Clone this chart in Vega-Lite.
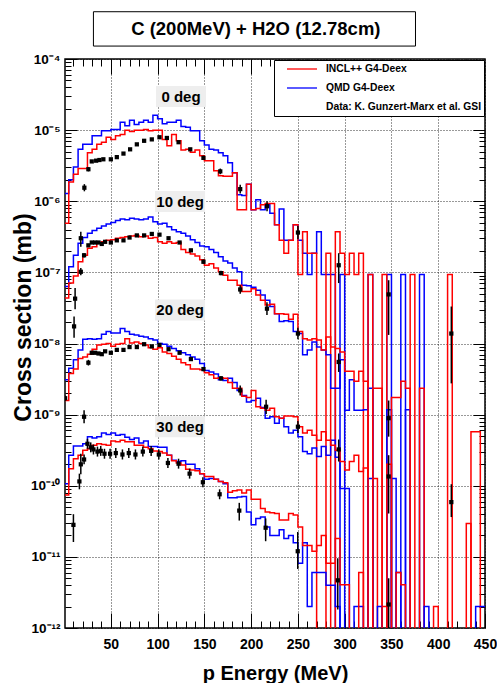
{
"$schema":"https://vega.github.io/schema/vega-lite/v6.json",
"width":420,"height":569,
"autosize":{"type":"none"},
"padding":{"left":65,"top":59,"right":12,"bottom":55},
"background":"white",
"config":{"font":"Liberation Sans","view":{"stroke":"black","strokeWidth":1.5},"axis":{"domain":false,"labelColor":"black","titleColor":"black","tickColor":"black"}},
"datasets":{
"hist":[
{"deg":0,"model":"QMD","E":0,"xs":1.29e-6},{"deg":0,"model":"QMD","E":5,"xs":2.0e-6},{"deg":0,"model":"QMD","E":10,"xs":3.02e-6},{"deg":0,"model":"QMD","E":15,"xs":5.37e-6},{"deg":0,"model":"QMD","E":20,"xs":6.31e-6},{"deg":0,"model":"QMD","E":25,"xs":6.31e-6},{"deg":0,"model":"QMD","E":30,"xs":8.32e-6},{"deg":0,"model":"QMD","E":35,"xs":8.32e-6},{"deg":0,"model":"QMD","E":40,"xs":9.77e-6},{"deg":0,"model":"QMD","E":45,"xs":9.77e-6},{"deg":0,"model":"QMD","E":50,"xs":1.02e-5},{"deg":0,"model":"QMD","E":55,"xs":1.02e-5},{"deg":0,"model":"QMD","E":60,"xs":1.29e-5},{"deg":0,"model":"QMD","E":65,"xs":1.15e-5},{"deg":0,"model":"QMD","E":70,"xs":1.38e-5},{"deg":0,"model":"QMD","E":75,"xs":1.2e-5},{"deg":0,"model":"QMD","E":80,"xs":1.29e-5},{"deg":0,"model":"QMD","E":85,"xs":1.38e-5},{"deg":0,"model":"QMD","E":90,"xs":1.29e-5},{"deg":0,"model":"QMD","E":95,"xs":1.62e-5},{"deg":0,"model":"QMD","E":100,"xs":1.45e-5},{"deg":0,"model":"QMD","E":105,"xs":1.23e-5},{"deg":0,"model":"QMD","E":110,"xs":1.29e-5},{"deg":0,"model":"QMD","E":115,"xs":1.29e-5},{"deg":0,"model":"QMD","E":120,"xs":1.38e-5},{"deg":0,"model":"QMD","E":125,"xs":1.12e-5},{"deg":0,"model":"QMD","E":130,"xs":1.1e-5},{"deg":0,"model":"QMD","E":135,"xs":9.77e-6},{"deg":0,"model":"QMD","E":140,"xs":9.77e-6},{"deg":0,"model":"QMD","E":145,"xs":7.08e-6},{"deg":0,"model":"QMD","E":150,"xs":6.17e-6},{"deg":0,"model":"QMD","E":155,"xs":5.37e-6},{"deg":0,"model":"QMD","E":160,"xs":5.25e-6},{"deg":0,"model":"QMD","E":165,"xs":4.79e-6},{"deg":0,"model":"QMD","E":170,"xs":4.37e-6},{"deg":0,"model":"QMD","E":175,"xs":3.47e-6},{"deg":0,"model":"QMD","E":180,"xs":2.51e-6},{"deg":0,"model":"QMD","E":185,"xs":1.23e-6},{"deg":0,"model":"QMD","E":190,"xs":1.2e-6},{"deg":0,"model":"QMD","E":195,"xs":1.74e-6},{"deg":0,"model":"QMD","E":200,"xs":7.59e-7},{"deg":0,"model":"QMD","E":205,"xs":1.05e-6},{"deg":0,"model":"QMD","E":210,"xs":7.59e-7},{"deg":0,"model":"QMD","E":215,"xs":8.91e-7},{"deg":0,"model":"QMD","E":220,"xs":6.76e-7},{"deg":0,"model":"QMD","E":225,"xs":4.68e-7},{"deg":0,"model":"QMD","E":230,"xs":7.76e-7},{"deg":0,"model":"QMD","E":235,"xs":2.82e-7},{"deg":0,"model":"QMD","E":240,"xs":2.82e-7},{"deg":0,"model":"QMD","E":245,"xs":4.68e-7},{"deg":0,"model":"QMD","E":250,"xs":2.82e-7},{"deg":0,"model":"QMD","E":255,"xs":1.86e-7},{"deg":0,"model":"QMD","E":260,"xs":9.33e-8},{"deg":0,"model":"QMD","E":265,"xs":1.86e-7},{"deg":0,"model":"QMD","E":270,"xs":3.72e-7},{"deg":0,"model":"QMD","E":275,"xs":9.33e-8},{"deg":0,"model":"QMD","E":280,"xs":9.33e-8},{"deg":0,"model":"QMD","E":285,"xs":9.33e-8},{"deg":0,"model":"QMD","E":290,"xs":1e-14},{"deg":0,"model":"QMD","E":295,"xs":9.33e-8},{"deg":0,"model":"QMD","E":300,"xs":1e-14},{"deg":0,"model":"QMD","E":325,"xs":9.33e-8},{"deg":0,"model":"QMD","E":330,"xs":1e-14},{"deg":0,"model":"QMD","E":345,"xs":9.33e-8},{"deg":0,"model":"QMD","E":350,"xs":1e-14},{"deg":0,"model":"QMD","E":360,"xs":9.33e-8},{"deg":0,"model":"QMD","E":365,"xs":1e-14},{"deg":0,"model":"QMD","E":380,"xs":9.33e-8},{"deg":0,"model":"QMD","E":385,"xs":1e-14},
{"deg":0,"model":"INCL","E":0,"xs":4.9e-7},{"deg":0,"model":"INCL","E":5,"xs":1.86e-6},{"deg":0,"model":"INCL","E":10,"xs":2.4e-6},{"deg":0,"model":"INCL","E":15,"xs":2.88e-6},{"deg":0,"model":"INCL","E":20,"xs":2.88e-6},{"deg":0,"model":"INCL","E":25,"xs":4.79e-6},{"deg":0,"model":"INCL","E":30,"xs":5.37e-6},{"deg":0,"model":"INCL","E":35,"xs":6.31e-6},{"deg":0,"model":"INCL","E":40,"xs":6.76e-6},{"deg":0,"model":"INCL","E":45,"xs":7.94e-6},{"deg":0,"model":"INCL","E":50,"xs":7.41e-6},{"deg":0,"model":"INCL","E":55,"xs":8.32e-6},{"deg":0,"model":"INCL","E":60,"xs":8.71e-6},{"deg":0,"model":"INCL","E":65,"xs":1.0e-5},{"deg":0,"model":"INCL","E":70,"xs":9.55e-6},{"deg":0,"model":"INCL","E":75,"xs":1.0e-5},{"deg":0,"model":"INCL","E":80,"xs":1.0e-5},{"deg":0,"model":"INCL","E":85,"xs":1.02e-5},{"deg":0,"model":"INCL","E":90,"xs":9.77e-6},{"deg":0,"model":"INCL","E":95,"xs":1.0e-5},{"deg":0,"model":"INCL","E":100,"xs":1.0e-5},{"deg":0,"model":"INCL","E":105,"xs":7.41e-6},{"deg":0,"model":"INCL","E":110,"xs":6.03e-6},{"deg":0,"model":"INCL","E":115,"xs":8.71e-6},{"deg":0,"model":"INCL","E":120,"xs":7.08e-6},{"deg":0,"model":"INCL","E":125,"xs":5.25e-6},{"deg":0,"model":"INCL","E":130,"xs":5.37e-6},{"deg":0,"model":"INCL","E":135,"xs":4.9e-6},{"deg":0,"model":"INCL","E":140,"xs":5.25e-6},{"deg":0,"model":"INCL","E":145,"xs":4.37e-6},{"deg":0,"model":"INCL","E":150,"xs":3.72e-6},{"deg":0,"model":"INCL","E":155,"xs":3.72e-6},{"deg":0,"model":"INCL","E":160,"xs":2.69e-6},{"deg":0,"model":"INCL","E":165,"xs":2.29e-6},{"deg":0,"model":"INCL","E":170,"xs":2.24e-6},{"deg":0,"model":"INCL","E":175,"xs":2.24e-6},{"deg":0,"model":"INCL","E":180,"xs":2.51e-6},{"deg":0,"model":"INCL","E":185,"xs":7.59e-7},{"deg":0,"model":"INCL","E":190,"xs":7.59e-7},{"deg":0,"model":"INCL","E":195,"xs":1.74e-6},{"deg":0,"model":"INCL","E":200,"xs":7.59e-7},{"deg":0,"model":"INCL","E":205,"xs":7.94e-7},{"deg":0,"model":"INCL","E":210,"xs":8.91e-7},{"deg":0,"model":"INCL","E":215,"xs":9.33e-7},{"deg":0,"model":"INCL","E":220,"xs":9.33e-7},{"deg":0,"model":"INCL","E":225,"xs":4.68e-7},{"deg":0,"model":"INCL","E":230,"xs":2.82e-7},{"deg":0,"model":"INCL","E":235,"xs":1.86e-7},{"deg":0,"model":"INCL","E":240,"xs":2.82e-7},{"deg":0,"model":"INCL","E":245,"xs":4.68e-7},{"deg":0,"model":"INCL","E":250,"xs":9.33e-8},{"deg":0,"model":"INCL","E":255,"xs":3.72e-7},{"deg":0,"model":"INCL","E":260,"xs":1.86e-7},{"deg":0,"model":"INCL","E":265,"xs":1.86e-7},{"deg":0,"model":"INCL","E":270,"xs":1e-14},{"deg":0,"model":"INCL","E":280,"xs":1.86e-7},{"deg":0,"model":"INCL","E":285,"xs":1e-14},{"deg":0,"model":"INCL","E":290,"xs":3.72e-7},{"deg":0,"model":"INCL","E":295,"xs":1.86e-7},{"deg":0,"model":"INCL","E":300,"xs":9.33e-8},{"deg":0,"model":"INCL","E":305,"xs":1.86e-7},{"deg":0,"model":"INCL","E":310,"xs":9.33e-8},{"deg":0,"model":"INCL","E":315,"xs":1.86e-7},{"deg":0,"model":"INCL","E":320,"xs":1e-14},{"deg":0,"model":"INCL","E":325,"xs":9.33e-8},{"deg":0,"model":"INCL","E":330,"xs":1e-14},{"deg":0,"model":"INCL","E":340,"xs":9.33e-8},{"deg":0,"model":"INCL","E":345,"xs":1e-14},{"deg":0,"model":"INCL","E":370,"xs":9.33e-8},{"deg":0,"model":"INCL","E":375,"xs":1e-14},{"deg":0,"model":"INCL","E":410,"xs":9.33e-8},{"deg":0,"model":"INCL","E":415,"xs":1e-14},
{"deg":10,"model":"QMD","E":0,"xs":6.31e-8},{"deg":10,"model":"QMD","E":5,"xs":1.2e-7},{"deg":10,"model":"QMD","E":10,"xs":1.74e-7},{"deg":10,"model":"QMD","E":15,"xs":2.57e-7},{"deg":10,"model":"QMD","E":20,"xs":3.09e-7},{"deg":10,"model":"QMD","E":25,"xs":3.55e-7},{"deg":10,"model":"QMD","E":30,"xs":3.89e-7},{"deg":10,"model":"QMD","E":35,"xs":4.17e-7},{"deg":10,"model":"QMD","E":40,"xs":4.47e-7},{"deg":10,"model":"QMD","E":45,"xs":4.79e-7},{"deg":10,"model":"QMD","E":50,"xs":5.01e-7},{"deg":10,"model":"QMD","E":55,"xs":5.37e-7},{"deg":10,"model":"QMD","E":60,"xs":5.62e-7},{"deg":10,"model":"QMD","E":65,"xs":5.5e-7},{"deg":10,"model":"QMD","E":70,"xs":5.75e-7},{"deg":10,"model":"QMD","E":75,"xs":5.62e-7},{"deg":10,"model":"QMD","E":80,"xs":5.5e-7},{"deg":10,"model":"QMD","E":85,"xs":5.62e-7},{"deg":10,"model":"QMD","E":90,"xs":6.03e-7},{"deg":10,"model":"QMD","E":95,"xs":5.13e-7},{"deg":10,"model":"QMD","E":100,"xs":4.79e-7},{"deg":10,"model":"QMD","E":105,"xs":4.9e-7},{"deg":10,"model":"QMD","E":110,"xs":4.37e-7},{"deg":10,"model":"QMD","E":115,"xs":3.98e-7},{"deg":10,"model":"QMD","E":120,"xs":3.72e-7},{"deg":10,"model":"QMD","E":125,"xs":3.55e-7},{"deg":10,"model":"QMD","E":130,"xs":3.24e-7},{"deg":10,"model":"QMD","E":135,"xs":2.88e-7},{"deg":10,"model":"QMD","E":140,"xs":2.63e-7},{"deg":10,"model":"QMD","E":145,"xs":2.34e-7},{"deg":10,"model":"QMD","E":150,"xs":2.29e-7},{"deg":10,"model":"QMD","E":155,"xs":2.09e-7},{"deg":10,"model":"QMD","E":160,"xs":1.91e-7},{"deg":10,"model":"QMD","E":165,"xs":1.66e-7},{"deg":10,"model":"QMD","E":170,"xs":1.45e-7},{"deg":10,"model":"QMD","E":175,"xs":1.35e-7},{"deg":10,"model":"QMD","E":180,"xs":1.15e-7},{"deg":10,"model":"QMD","E":185,"xs":1.02e-7},{"deg":10,"model":"QMD","E":190,"xs":6.61e-8},{"deg":10,"model":"QMD","E":195,"xs":6.46e-8},{"deg":10,"model":"QMD","E":200,"xs":6.17e-8},{"deg":10,"model":"QMD","E":205,"xs":5.62e-8},{"deg":10,"model":"QMD","E":210,"xs":4.79e-8},{"deg":10,"model":"QMD","E":215,"xs":4.07e-8},{"deg":10,"model":"QMD","E":220,"xs":3.31e-8},{"deg":10,"model":"QMD","E":225,"xs":2.63e-8},{"deg":10,"model":"QMD","E":230,"xs":2.04e-8},{"deg":10,"model":"QMD","E":235,"xs":2.09e-8},{"deg":10,"model":"QMD","E":240,"xs":2.04e-8},{"deg":10,"model":"QMD","E":245,"xs":1.48e-8},{"deg":10,"model":"QMD","E":250,"xs":1.38e-8},{"deg":10,"model":"QMD","E":255,"xs":6.92e-9},{"deg":10,"model":"QMD","E":260,"xs":8.13e-9},{"deg":10,"model":"QMD","E":265,"xs":1.05e-8},{"deg":10,"model":"QMD","E":270,"xs":8.91e-9},{"deg":10,"model":"QMD","E":275,"xs":8.13e-9},{"deg":10,"model":"QMD","E":280,"xs":6.92e-9},{"deg":10,"model":"QMD","E":285,"xs":2.34e-9},{"deg":10,"model":"QMD","E":290,"xs":2.34e-9},{"deg":10,"model":"QMD","E":295,"xs":5.89e-9},{"deg":10,"model":"QMD","E":300,"xs":1.15e-9},{"deg":10,"model":"QMD","E":305,"xs":3.09e-9},{"deg":10,"model":"QMD","E":310,"xs":1.15e-9},{"deg":10,"model":"QMD","E":315,"xs":1.15e-9},{"deg":10,"model":"QMD","E":320,"xs":1.17e-9},{"deg":10,"model":"QMD","E":325,"xs":2.34e-9},{"deg":10,"model":"QMD","E":330,"xs":1e-14},{"deg":10,"model":"QMD","E":345,"xs":1.17e-9},{"deg":10,"model":"QMD","E":350,"xs":1e-14},{"deg":10,"model":"QMD","E":365,"xs":1.17e-9},{"deg":10,"model":"QMD","E":370,"xs":1e-14},
{"deg":10,"model":"INCL","E":0,"xs":4.37e-8},{"deg":10,"model":"INCL","E":5,"xs":7.08e-8},{"deg":10,"model":"INCL","E":10,"xs":8.91e-8},{"deg":10,"model":"INCL","E":15,"xs":1.41e-7},{"deg":10,"model":"INCL","E":20,"xs":1.74e-7},{"deg":10,"model":"INCL","E":25,"xs":2.19e-7},{"deg":10,"model":"INCL","E":30,"xs":2.29e-7},{"deg":10,"model":"INCL","E":35,"xs":2.57e-7},{"deg":10,"model":"INCL","E":40,"xs":2.69e-7},{"deg":10,"model":"INCL","E":45,"xs":2.82e-7},{"deg":10,"model":"INCL","E":50,"xs":2.88e-7},{"deg":10,"model":"INCL","E":55,"xs":3.02e-7},{"deg":10,"model":"INCL","E":60,"xs":3.09e-7},{"deg":10,"model":"INCL","E":65,"xs":3.16e-7},{"deg":10,"model":"INCL","E":70,"xs":3.24e-7},{"deg":10,"model":"INCL","E":75,"xs":3.31e-7},{"deg":10,"model":"INCL","E":80,"xs":3.16e-7},{"deg":10,"model":"INCL","E":85,"xs":3.24e-7},{"deg":10,"model":"INCL","E":90,"xs":3.02e-7},{"deg":10,"model":"INCL","E":95,"xs":3.09e-7},{"deg":10,"model":"INCL","E":100,"xs":2.69e-7},{"deg":10,"model":"INCL","E":105,"xs":2.57e-7},{"deg":10,"model":"INCL","E":110,"xs":2.69e-7},{"deg":10,"model":"INCL","E":115,"xs":2.57e-7},{"deg":10,"model":"INCL","E":120,"xs":2.63e-7},{"deg":10,"model":"INCL","E":125,"xs":2.09e-7},{"deg":10,"model":"INCL","E":130,"xs":1.91e-7},{"deg":10,"model":"INCL","E":135,"xs":1.82e-7},{"deg":10,"model":"INCL","E":140,"xs":1.7e-7},{"deg":10,"model":"INCL","E":145,"xs":1.51e-7},{"deg":10,"model":"INCL","E":150,"xs":1.26e-7},{"deg":10,"model":"INCL","E":155,"xs":1.32e-7},{"deg":10,"model":"INCL","E":160,"xs":1.15e-7},{"deg":10,"model":"INCL","E":165,"xs":1.02e-7},{"deg":10,"model":"INCL","E":170,"xs":9.12e-8},{"deg":10,"model":"INCL","E":175,"xs":7.76e-8},{"deg":10,"model":"INCL","E":180,"xs":7.76e-8},{"deg":10,"model":"INCL","E":185,"xs":6.61e-8},{"deg":10,"model":"INCL","E":190,"xs":5.37e-8},{"deg":10,"model":"INCL","E":195,"xs":5.37e-8},{"deg":10,"model":"INCL","E":200,"xs":5.89e-8},{"deg":10,"model":"INCL","E":205,"xs":4.79e-8},{"deg":10,"model":"INCL","E":210,"xs":4.07e-8},{"deg":10,"model":"INCL","E":215,"xs":3.47e-8},{"deg":10,"model":"INCL","E":220,"xs":3.55e-8},{"deg":10,"model":"INCL","E":225,"xs":2.63e-8},{"deg":10,"model":"INCL","E":230,"xs":2.63e-8},{"deg":10,"model":"INCL","E":235,"xs":2.57e-8},{"deg":10,"model":"INCL","E":240,"xs":2.19e-8},{"deg":10,"model":"INCL","E":245,"xs":2.57e-8},{"deg":10,"model":"INCL","E":250,"xs":1.48e-8},{"deg":10,"model":"INCL","E":255,"xs":1.17e-8},{"deg":10,"model":"INCL","E":260,"xs":1.12e-8},{"deg":10,"model":"INCL","E":265,"xs":1.17e-8},{"deg":10,"model":"INCL","E":270,"xs":1.12e-8},{"deg":10,"model":"INCL","E":275,"xs":8.13e-9},{"deg":10,"model":"INCL","E":280,"xs":1.23e-8},{"deg":10,"model":"INCL","E":285,"xs":8.91e-9},{"deg":10,"model":"INCL","E":290,"xs":8.51e-9},{"deg":10,"model":"INCL","E":295,"xs":7.59e-9},{"deg":10,"model":"INCL","E":300,"xs":4.07e-9},{"deg":10,"model":"INCL","E":305,"xs":4.07e-9},{"deg":10,"model":"INCL","E":310,"xs":2.95e-9},{"deg":10,"model":"INCL","E":315,"xs":4.07e-9},{"deg":10,"model":"INCL","E":320,"xs":2.95e-9},{"deg":10,"model":"INCL","E":325,"xs":1e-14},{"deg":10,"model":"INCL","E":330,"xs":2.34e-9},{"deg":10,"model":"INCL","E":335,"xs":2.34e-9},{"deg":10,"model":"INCL","E":340,"xs":1e-14},{"deg":10,"model":"INCL","E":350,"xs":1.74e-9},{"deg":10,"model":"INCL","E":355,"xs":1.74e-9},{"deg":10,"model":"INCL","E":360,"xs":2.95e-9},{"deg":10,"model":"INCL","E":365,"xs":2.34e-9},{"deg":10,"model":"INCL","E":370,"xs":1e-14},{"deg":10,"model":"INCL","E":380,"xs":2.34e-9},{"deg":10,"model":"INCL","E":385,"xs":1e-14},
{"deg":20,"model":"QMD","E":0,"xs":3.09e-9},{"deg":20,"model":"QMD","E":5,"xs":4.47e-9},{"deg":20,"model":"QMD","E":10,"xs":5.89e-9},{"deg":20,"model":"QMD","E":15,"xs":8.13e-9},{"deg":20,"model":"QMD","E":20,"xs":1.15e-8},{"deg":20,"model":"QMD","E":25,"xs":1.17e-8},{"deg":20,"model":"QMD","E":30,"xs":1.15e-8},{"deg":20,"model":"QMD","E":35,"xs":1.17e-8},{"deg":20,"model":"QMD","E":40,"xs":1.35e-8},{"deg":20,"model":"QMD","E":45,"xs":1.48e-8},{"deg":20,"model":"QMD","E":50,"xs":1.41e-8},{"deg":20,"model":"QMD","E":55,"xs":1.41e-8},{"deg":20,"model":"QMD","E":60,"xs":1.62e-8},{"deg":20,"model":"QMD","E":65,"xs":1.48e-8},{"deg":20,"model":"QMD","E":70,"xs":1.35e-8},{"deg":20,"model":"QMD","E":75,"xs":1.32e-8},{"deg":20,"model":"QMD","E":80,"xs":1.26e-8},{"deg":20,"model":"QMD","E":85,"xs":1.23e-8},{"deg":20,"model":"QMD","E":90,"xs":1.17e-8},{"deg":20,"model":"QMD","E":95,"xs":1.12e-8},{"deg":20,"model":"QMD","E":100,"xs":1.0e-8},{"deg":20,"model":"QMD","E":105,"xs":9.77e-9},{"deg":20,"model":"QMD","E":110,"xs":9.12e-9},{"deg":20,"model":"QMD","E":115,"xs":8.51e-9},{"deg":20,"model":"QMD","E":120,"xs":7.94e-9},{"deg":20,"model":"QMD","E":125,"xs":7.41e-9},{"deg":20,"model":"QMD","E":130,"xs":6.92e-9},{"deg":20,"model":"QMD","E":135,"xs":6.46e-9},{"deg":20,"model":"QMD","E":140,"xs":6.03e-9},{"deg":20,"model":"QMD","E":145,"xs":5.25e-9},{"deg":20,"model":"QMD","E":150,"xs":4.17e-9},{"deg":20,"model":"QMD","E":155,"xs":3.98e-9},{"deg":20,"model":"QMD","E":160,"xs":3.72e-9},{"deg":20,"model":"QMD","E":165,"xs":3.09e-9},{"deg":20,"model":"QMD","E":170,"xs":3.02e-9},{"deg":20,"model":"QMD","E":175,"xs":3.24e-9},{"deg":20,"model":"QMD","E":180,"xs":2.82e-9},{"deg":20,"model":"QMD","E":185,"xs":2.19e-9},{"deg":20,"model":"QMD","E":190,"xs":1.86e-9},{"deg":20,"model":"QMD","E":195,"xs":1.51e-9},{"deg":20,"model":"QMD","E":200,"xs":1.58e-9},{"deg":20,"model":"QMD","E":205,"xs":1.7e-9},{"deg":20,"model":"QMD","E":210,"xs":1.26e-9},{"deg":20,"model":"QMD","E":215,"xs":8.91e-10},{"deg":20,"model":"QMD","E":220,"xs":9.33e-10},{"deg":20,"model":"QMD","E":225,"xs":7.59e-10},{"deg":20,"model":"QMD","E":230,"xs":8.91e-10},{"deg":20,"model":"QMD","E":235,"xs":6.76e-10},{"deg":20,"model":"QMD","E":240,"xs":5.5e-10},{"deg":20,"model":"QMD","E":245,"xs":6.03e-10},{"deg":20,"model":"QMD","E":250,"xs":4.9e-10},{"deg":20,"model":"QMD","E":255,"xs":3.02e-10},{"deg":20,"model":"QMD","E":260,"xs":2.82e-10},{"deg":20,"model":"QMD","E":265,"xs":3.39e-10},{"deg":20,"model":"QMD","E":270,"xs":2.57e-10},{"deg":20,"model":"QMD","E":275,"xs":3.55e-10},{"deg":20,"model":"QMD","E":280,"xs":2.69e-10},{"deg":20,"model":"QMD","E":285,"xs":4.37e-10},{"deg":20,"model":"QMD","E":290,"xs":2.51e-10},{"deg":20,"model":"QMD","E":295,"xs":9.12e-11},{"deg":20,"model":"QMD","E":300,"xs":9.12e-11},{"deg":20,"model":"QMD","E":305,"xs":1e-14},{"deg":20,"model":"QMD","E":325,"xs":1.26e-10},{"deg":20,"model":"QMD","E":330,"xs":1e-14},{"deg":20,"model":"QMD","E":350,"xs":1.26e-10},{"deg":20,"model":"QMD","E":355,"xs":1e-14},
{"deg":20,"model":"INCL","E":0,"xs":1.58e-9},{"deg":20,"model":"INCL","E":5,"xs":3.8e-9},{"deg":20,"model":"INCL","E":10,"xs":4.37e-9},{"deg":20,"model":"INCL","E":15,"xs":6.17e-9},{"deg":20,"model":"INCL","E":20,"xs":6.46e-9},{"deg":20,"model":"INCL","E":25,"xs":7.08e-9},{"deg":20,"model":"INCL","E":30,"xs":8.32e-9},{"deg":20,"model":"INCL","E":35,"xs":9.55e-9},{"deg":20,"model":"INCL","E":40,"xs":9.77e-9},{"deg":20,"model":"INCL","E":45,"xs":1.0e-8},{"deg":20,"model":"INCL","E":50,"xs":9.12e-9},{"deg":20,"model":"INCL","E":55,"xs":9.77e-9},{"deg":20,"model":"INCL","E":60,"xs":1.0e-8},{"deg":20,"model":"INCL","E":65,"xs":1.17e-8},{"deg":20,"model":"INCL","E":70,"xs":1.02e-8},{"deg":20,"model":"INCL","E":75,"xs":1.05e-8},{"deg":20,"model":"INCL","E":80,"xs":1.0e-8},{"deg":20,"model":"INCL","E":85,"xs":9.55e-9},{"deg":20,"model":"INCL","E":90,"xs":8.71e-9},{"deg":20,"model":"INCL","E":95,"xs":8.32e-9},{"deg":20,"model":"INCL","E":100,"xs":8.71e-9},{"deg":20,"model":"INCL","E":105,"xs":7.59e-9},{"deg":20,"model":"INCL","E":110,"xs":7.24e-9},{"deg":20,"model":"INCL","E":115,"xs":6.61e-9},{"deg":20,"model":"INCL","E":120,"xs":6.03e-9},{"deg":20,"model":"INCL","E":125,"xs":5.37e-9},{"deg":20,"model":"INCL","E":130,"xs":5.01e-9},{"deg":20,"model":"INCL","E":135,"xs":4.37e-9},{"deg":20,"model":"INCL","E":140,"xs":4.37e-9},{"deg":20,"model":"INCL","E":145,"xs":4.27e-9},{"deg":20,"model":"INCL","E":150,"xs":3.89e-9},{"deg":20,"model":"INCL","E":155,"xs":3.63e-9},{"deg":20,"model":"INCL","E":160,"xs":3.24e-9},{"deg":20,"model":"INCL","E":165,"xs":3.31e-9},{"deg":20,"model":"INCL","E":170,"xs":3.24e-9},{"deg":20,"model":"INCL","E":175,"xs":2.82e-9},{"deg":20,"model":"INCL","E":180,"xs":2.34e-9},{"deg":20,"model":"INCL","E":185,"xs":2.34e-9},{"deg":20,"model":"INCL","E":190,"xs":1.82e-9},{"deg":20,"model":"INCL","E":195,"xs":1.74e-9},{"deg":20,"model":"INCL","E":200,"xs":2.19e-9},{"deg":20,"model":"INCL","E":205,"xs":1.29e-9},{"deg":20,"model":"INCL","E":210,"xs":1.23e-9},{"deg":20,"model":"INCL","E":215,"xs":1.15e-9},{"deg":20,"model":"INCL","E":220,"xs":1.23e-9},{"deg":20,"model":"INCL","E":225,"xs":9.33e-10},{"deg":20,"model":"INCL","E":230,"xs":8.91e-10},{"deg":20,"model":"INCL","E":235,"xs":9.55e-10},{"deg":20,"model":"INCL","E":240,"xs":9.55e-10},{"deg":20,"model":"INCL","E":245,"xs":9.33e-10},{"deg":20,"model":"INCL","E":250,"xs":6.76e-10},{"deg":20,"model":"INCL","E":255,"xs":5.5e-10},{"deg":20,"model":"INCL","E":260,"xs":6.03e-10},{"deg":20,"model":"INCL","E":265,"xs":5.13e-10},{"deg":20,"model":"INCL","E":270,"xs":4.37e-10},{"deg":20,"model":"INCL","E":275,"xs":5.75e-10},{"deg":20,"model":"INCL","E":280,"xs":4.37e-10},{"deg":20,"model":"INCL","E":285,"xs":3.72e-10},{"deg":20,"model":"INCL","E":290,"xs":3.16e-10},{"deg":20,"model":"INCL","E":295,"xs":2.19e-10},{"deg":20,"model":"INCL","E":300,"xs":1.66e-10},{"deg":20,"model":"INCL","E":305,"xs":2.19e-10},{"deg":20,"model":"INCL","E":310,"xs":2.69e-10},{"deg":20,"model":"INCL","E":315,"xs":1.58e-10},{"deg":20,"model":"INCL","E":320,"xs":1.78e-10},{"deg":20,"model":"INCL","E":325,"xs":1e-14},{"deg":20,"model":"INCL","E":330,"xs":1.26e-10},{"deg":20,"model":"INCL","E":335,"xs":1e-14},{"deg":20,"model":"INCL","E":345,"xs":2.0e-10},{"deg":20,"model":"INCL","E":350,"xs":1e-14},{"deg":20,"model":"INCL","E":435,"xs":5.75e-10},{"deg":20,"model":"INCL","E":445,"xs":1e-14},
{"deg":30,"model":"QMD","E":0,"xs":1.07e-10},{"deg":30,"model":"QMD","E":5,"xs":2.69e-10},{"deg":30,"model":"QMD","E":10,"xs":3.63e-10},{"deg":30,"model":"QMD","E":15,"xs":3.63e-10},{"deg":30,"model":"QMD","E":20,"xs":3.89e-10},{"deg":30,"model":"QMD","E":25,"xs":4.9e-10},{"deg":30,"model":"QMD","E":30,"xs":4.68e-10},{"deg":30,"model":"QMD","E":35,"xs":4.9e-10},{"deg":30,"model":"QMD","E":40,"xs":5.5e-10},{"deg":30,"model":"QMD","E":45,"xs":5.25e-10},{"deg":30,"model":"QMD","E":50,"xs":5.5e-10},{"deg":30,"model":"QMD","E":55,"xs":5.13e-10},{"deg":30,"model":"QMD","E":60,"xs":5.25e-10},{"deg":30,"model":"QMD","E":65,"xs":4.79e-10},{"deg":30,"model":"QMD","E":70,"xs":4.47e-10},{"deg":30,"model":"QMD","E":75,"xs":4.68e-10},{"deg":30,"model":"QMD","E":80,"xs":3.98e-10},{"deg":30,"model":"QMD","E":85,"xs":4.27e-10},{"deg":30,"model":"QMD","E":90,"xs":3.55e-10},{"deg":30,"model":"QMD","E":95,"xs":3.55e-10},{"deg":30,"model":"QMD","E":100,"xs":3.47e-10},{"deg":30,"model":"QMD","E":105,"xs":3.47e-10},{"deg":30,"model":"QMD","E":110,"xs":2.69e-10},{"deg":30,"model":"QMD","E":115,"xs":2.29e-10},{"deg":30,"model":"QMD","E":120,"xs":2.19e-10},{"deg":30,"model":"QMD","E":125,"xs":2.24e-10},{"deg":30,"model":"QMD","E":130,"xs":2.0e-10},{"deg":30,"model":"QMD","E":135,"xs":2.0e-10},{"deg":30,"model":"QMD","E":140,"xs":1.74e-10},{"deg":30,"model":"QMD","E":145,"xs":1.48e-10},{"deg":30,"model":"QMD","E":150,"xs":1.23e-10},{"deg":30,"model":"QMD","E":155,"xs":1.26e-10},{"deg":30,"model":"QMD","E":160,"xs":1.23e-10},{"deg":30,"model":"QMD","E":165,"xs":1.15e-10},{"deg":30,"model":"QMD","E":170,"xs":1.07e-10},{"deg":30,"model":"QMD","E":175,"xs":6.76e-11},{"deg":30,"model":"QMD","E":180,"xs":6.76e-11},{"deg":30,"model":"QMD","E":185,"xs":6.92e-11},{"deg":30,"model":"QMD","E":190,"xs":7.08e-11},{"deg":30,"model":"QMD","E":195,"xs":4.27e-11},{"deg":30,"model":"QMD","E":200,"xs":2.82e-11},{"deg":30,"model":"QMD","E":205,"xs":3.47e-11},{"deg":30,"model":"QMD","E":210,"xs":3.63e-11},{"deg":30,"model":"QMD","E":215,"xs":2.63e-11},{"deg":30,"model":"QMD","E":220,"xs":2.0e-11},{"deg":30,"model":"QMD","E":225,"xs":2.0e-11},{"deg":30,"model":"QMD","E":230,"xs":2.4e-11},{"deg":30,"model":"QMD","E":235,"xs":1.82e-11},{"deg":30,"model":"QMD","E":240,"xs":2.0e-11},{"deg":30,"model":"QMD","E":245,"xs":1.58e-11},{"deg":30,"model":"QMD","E":250,"xs":8.13e-12},{"deg":30,"model":"QMD","E":255,"xs":1.58e-11},{"deg":30,"model":"QMD","E":260,"xs":2.0e-12},{"deg":30,"model":"QMD","E":265,"xs":6.03e-12},{"deg":30,"model":"QMD","E":270,"xs":6.03e-12},{"deg":30,"model":"QMD","E":275,"xs":6.03e-12},{"deg":30,"model":"QMD","E":280,"xs":3.98e-12},{"deg":30,"model":"QMD","E":285,"xs":3.98e-12},{"deg":30,"model":"QMD","E":290,"xs":2.0e-12},{"deg":30,"model":"QMD","E":295,"xs":1e-14},{"deg":30,"model":"QMD","E":310,"xs":2.0e-12},{"deg":30,"model":"QMD","E":320,"xs":1e-14},{"deg":30,"model":"QMD","E":335,"xs":2.0e-12},{"deg":30,"model":"QMD","E":340,"xs":1e-14},{"deg":30,"model":"QMD","E":355,"xs":6.03e-12},{"deg":30,"model":"QMD","E":360,"xs":1e-14},{"deg":30,"model":"QMD","E":385,"xs":2.0e-12},{"deg":30,"model":"QMD","E":390,"xs":1e-14},{"deg":30,"model":"QMD","E":440,"xs":2.0e-12},{"deg":30,"model":"QMD","E":450,"xs":2.0e-12},
{"deg":30,"model":"INCL","E":0,"xs":7.41e-11},{"deg":30,"model":"INCL","E":5,"xs":1.74e-10},{"deg":30,"model":"INCL","E":10,"xs":2.4e-10},{"deg":30,"model":"INCL","E":15,"xs":2.69e-10},{"deg":30,"model":"INCL","E":20,"xs":3.16e-10},{"deg":30,"model":"INCL","E":25,"xs":3.31e-10},{"deg":30,"model":"INCL","E":30,"xs":3.72e-10},{"deg":30,"model":"INCL","E":35,"xs":3.89e-10},{"deg":30,"model":"INCL","E":40,"xs":3.8e-10},{"deg":30,"model":"INCL","E":45,"xs":3.72e-10},{"deg":30,"model":"INCL","E":50,"xs":4.27e-10},{"deg":30,"model":"INCL","E":55,"xs":4.17e-10},{"deg":30,"model":"INCL","E":60,"xs":4.37e-10},{"deg":30,"model":"INCL","E":65,"xs":4.17e-10},{"deg":30,"model":"INCL","E":70,"xs":4.17e-10},{"deg":30,"model":"INCL","E":75,"xs":3.72e-10},{"deg":30,"model":"INCL","E":80,"xs":3.72e-10},{"deg":30,"model":"INCL","E":85,"xs":3.47e-10},{"deg":30,"model":"INCL","E":90,"xs":3.31e-10},{"deg":30,"model":"INCL","E":95,"xs":3.09e-10},{"deg":30,"model":"INCL","E":100,"xs":3.02e-10},{"deg":30,"model":"INCL","E":105,"xs":2.88e-10},{"deg":30,"model":"INCL","E":110,"xs":2.69e-10},{"deg":30,"model":"INCL","E":115,"xs":2.24e-10},{"deg":30,"model":"INCL","E":120,"xs":2.09e-10},{"deg":30,"model":"INCL","E":125,"xs":1.95e-10},{"deg":30,"model":"INCL","E":130,"xs":1.7e-10},{"deg":30,"model":"INCL","E":135,"xs":1.66e-10},{"deg":30,"model":"INCL","E":140,"xs":1.62e-10},{"deg":30,"model":"INCL","E":145,"xs":1.48e-10},{"deg":30,"model":"INCL","E":150,"xs":1.35e-10},{"deg":30,"model":"INCL","E":155,"xs":1.35e-10},{"deg":30,"model":"INCL","E":160,"xs":1.23e-10},{"deg":30,"model":"INCL","E":165,"xs":1.15e-10},{"deg":30,"model":"INCL","E":170,"xs":1.1e-10},{"deg":30,"model":"INCL","E":175,"xs":8.13e-11},{"deg":30,"model":"INCL","E":180,"xs":8.51e-11},{"deg":30,"model":"INCL","E":185,"xs":8.71e-11},{"deg":30,"model":"INCL","E":190,"xs":7.94e-11},{"deg":30,"model":"INCL","E":195,"xs":8.71e-11},{"deg":30,"model":"INCL","E":200,"xs":6.46e-11},{"deg":30,"model":"INCL","E":205,"xs":6.46e-11},{"deg":30,"model":"INCL","E":210,"xs":4.79e-11},{"deg":30,"model":"INCL","E":215,"xs":4.27e-11},{"deg":30,"model":"INCL","E":220,"xs":4.17e-11},{"deg":30,"model":"INCL","E":225,"xs":4.07e-11},{"deg":30,"model":"INCL","E":230,"xs":3.31e-11},{"deg":30,"model":"INCL","E":235,"xs":3.31e-11},{"deg":30,"model":"INCL","E":240,"xs":4.07e-11},{"deg":30,"model":"INCL","E":245,"xs":3.89e-11},{"deg":30,"model":"INCL","E":250,"xs":2.63e-11},{"deg":30,"model":"INCL","E":255,"xs":1.45e-11},{"deg":30,"model":"INCL","E":260,"xs":1.45e-11},{"deg":30,"model":"INCL","E":265,"xs":1.2e-11},{"deg":30,"model":"INCL","E":270,"xs":1.45e-11},{"deg":30,"model":"INCL","E":275,"xs":2.0e-11},{"deg":30,"model":"INCL","E":280,"xs":8.13e-12},{"deg":30,"model":"INCL","E":285,"xs":8.13e-12},{"deg":30,"model":"INCL","E":290,"xs":1.82e-11},{"deg":30,"model":"INCL","E":295,"xs":4.07e-12},{"deg":30,"model":"INCL","E":300,"xs":4.07e-12},{"deg":30,"model":"INCL","E":305,"xs":1e-14},{"deg":30,"model":"INCL","E":315,"xs":6.03e-12},{"deg":30,"model":"INCL","E":320,"xs":1e-14},{"deg":30,"model":"INCL","E":340,"xs":2.0e-12},{"deg":30,"model":"INCL","E":345,"xs":1e-14},{"deg":30,"model":"INCL","E":355,"xs":6.03e-12},{"deg":30,"model":"INCL","E":360,"xs":4.07e-12},{"deg":30,"model":"INCL","E":365,"xs":1e-14},{"deg":30,"model":"INCL","E":395,"xs":2.0e-12},{"deg":30,"model":"INCL","E":400,"xs":1e-14},{"deg":30,"model":"INCL","E":430,"xs":2.95e-11},{"deg":30,"model":"INCL","E":435,"xs":1e-14}
],
"points":[
{"E":21.7,"xs":1.55e-6,"lo":1.38e-6,"hi":1.74e-6},{"E":26,"xs":2.82e-6,"lo":2.63e-6,"hi":3.02e-6},{"E":29.6,"xs":3.63e-6,"lo":3.47e-6,"hi":3.8e-6},{"E":34.3,"xs":3.72e-6,"lo":3.55e-6,"hi":3.89e-6},{"E":37.8,"xs":3.8e-6,"lo":3.63e-6,"hi":3.98e-6},{"E":42,"xs":3.89e-6,"lo":3.72e-6,"hi":4.07e-6},{"E":50,"xs":3.89e-6,"lo":3.72e-6,"hi":4.07e-6},{"E":56.4,"xs":4.17e-6,"lo":3.98e-6,"hi":4.37e-6},{"E":63.5,"xs":4.68e-6,"lo":4.47e-6,"hi":4.9e-6},{"E":70.6,"xs":5.37e-6,"lo":5.13e-6,"hi":5.62e-6},{"E":77.8,"xs":6.31e-6,"lo":6.03e-6,"hi":6.61e-6},{"E":85.6,"xs":7.08e-6,"lo":6.76e-6,"hi":7.41e-6},{"E":93.8,"xs":7.41e-6,"lo":7.08e-6,"hi":7.76e-6},{"E":102,"xs":7.94e-6,"lo":7.59e-6,"hi":8.32e-6},{"E":109.9,"xs":7.76e-6,"lo":7.41e-6,"hi":8.13e-6},{"E":122.4,"xs":6.76e-6,"lo":6.46e-6,"hi":7.08e-6},{"E":134.9,"xs":5.37e-6,"lo":5.13e-6,"hi":5.62e-6},{"E":149,"xs":4.07e-6,"lo":3.8e-6,"hi":4.37e-6},{"E":167,"xs":2.63e-6,"lo":2.4e-6,"hi":2.88e-6},{"E":188.3,"xs":1.48e-6,"lo":1.29e-6,"hi":1.7e-6},{"E":217,"xs":8.51e-7,"lo":7.24e-7,"hi":1.0e-6},{"E":250,"xs":3.63e-7,"lo":2.95e-7,"hi":4.47e-7},{"E":293.6,"xs":1.26e-7,"lo":7.08e-8,"hi":1.86e-7},{"E":347,"xs":4.9e-8,"lo":1.32e-8,"hi":7.76e-8},{"E":414,"xs":1.38e-8,"lo":2.75e-9,"hi":3.31e-8},
{"E":11.8,"xs":4.27e-8,"lo":3.02e-8,"hi":6.03e-8},{"E":17.9,"xs":1.02e-7,"lo":9.12e-8,"hi":1.15e-7},{"E":17.9,"xs":3.02e-7,"lo":2.29e-7,"hi":3.72e-7},{"E":21.4,"xs":1.74e-7,"lo":1.62e-7,"hi":1.86e-7},{"E":26,"xs":2.4e-7,"lo":2.29e-7,"hi":2.51e-7},{"E":29.6,"xs":2.63e-7,"lo":2.51e-7,"hi":2.75e-7},{"E":33.2,"xs":2.63e-7,"lo":2.51e-7,"hi":2.75e-7},{"E":36.8,"xs":2.63e-7,"lo":2.51e-7,"hi":2.75e-7},{"E":40.3,"xs":2.51e-7,"lo":2.4e-7,"hi":2.63e-7},{"E":43.9,"xs":2.69e-7,"lo":2.57e-7,"hi":2.82e-7},{"E":50,"xs":2.63e-7,"lo":2.51e-7,"hi":2.75e-7},{"E":56.4,"xs":2.82e-7,"lo":2.69e-7,"hi":2.95e-7},{"E":63.5,"xs":2.82e-7,"lo":2.69e-7,"hi":2.95e-7},{"E":70,"xs":3.09e-7,"lo":2.95e-7,"hi":3.24e-7},{"E":77.8,"xs":3.31e-7,"lo":3.16e-7,"hi":3.47e-7},{"E":85.6,"xs":3.31e-7,"lo":3.16e-7,"hi":3.47e-7},{"E":93.8,"xs":3.47e-7,"lo":3.31e-7,"hi":3.63e-7},{"E":102,"xs":3.39e-7,"lo":3.24e-7,"hi":3.55e-7},{"E":111.7,"xs":3.02e-7,"lo":2.88e-7,"hi":3.16e-7},{"E":123.5,"xs":2.63e-7,"lo":2.51e-7,"hi":2.75e-7},{"E":135.6,"xs":2.04e-7,"lo":1.95e-7,"hi":2.14e-7},{"E":149,"xs":1.41e-7,"lo":1.32e-7,"hi":1.51e-7},{"E":167.7,"xs":9.77e-8,"lo":9.12e-8,"hi":1.05e-7},{"E":188.3,"xs":5.75e-8,"lo":5.0e-8,"hi":6.61e-8},{"E":216.9,"xs":3.09e-8,"lo":2.51e-8,"hi":3.8e-8},{"E":250,"xs":1.38e-8,"lo":1.15e-8,"hi":1.66e-8},{"E":293.6,"xs":5.5e-9,"lo":3.98e-9,"hi":7.24e-9},
{"E":1.1,"xs":1.7e-9,"lo":1.55e-9,"hi":1.86e-9},{"E":10.7,"xs":1.74e-8,"lo":1.2e-8,"hi":2.4e-8},{"E":21.4,"xs":9.33e-10,"lo":7.59e-10,"hi":1.15e-9},{"E":26,"xs":5.37e-9,"lo":4.9e-9,"hi":5.89e-9},{"E":29.6,"xs":7.41e-9,"lo":7.08e-9,"hi":7.76e-9},{"E":33.2,"xs":7.41e-9,"lo":7.08e-9,"hi":7.76e-9},{"E":36.8,"xs":7.24e-9,"lo":6.92e-9,"hi":7.59e-9},{"E":40.3,"xs":7.08e-9,"lo":6.76e-9,"hi":7.41e-9},{"E":43.9,"xs":7.76e-9,"lo":7.41e-9,"hi":8.13e-9},{"E":50,"xs":7.41e-9,"lo":7.08e-9,"hi":7.76e-9},{"E":56.4,"xs":8.13e-9,"lo":7.76e-9,"hi":8.51e-9},{"E":63.5,"xs":8.13e-9,"lo":7.76e-9,"hi":8.51e-9},{"E":70,"xs":8.91e-9,"lo":8.51e-9,"hi":9.33e-9},{"E":77.8,"xs":8.91e-9,"lo":8.51e-9,"hi":9.33e-9},{"E":85.6,"xs":9.77e-9,"lo":9.33e-9,"hi":1.02e-8},{"E":93.8,"xs":9.12e-9,"lo":8.71e-9,"hi":9.55e-9},{"E":102,"xs":9.55e-9,"lo":9.12e-9,"hi":1.0e-8},{"E":111.7,"xs":8.32e-9,"lo":7.94e-9,"hi":8.71e-9},{"E":123.5,"xs":7.41e-9,"lo":7.08e-9,"hi":7.76e-9},{"E":135.6,"xs":6.03e-9,"lo":5.75e-9,"hi":6.31e-9},{"E":149,"xs":4.37e-9,"lo":4.07e-9,"hi":4.68e-9},{"E":167.7,"xs":3.24e-9,"lo":3.02e-9,"hi":3.47e-9},{"E":188.3,"xs":2.19e-9,"lo":1.86e-9,"hi":2.57e-9},{"E":216,"xs":1.29e-9,"lo":1.02e-9,"hi":1.62e-9},{"E":250,"xs":6.76e-10,"lo":5.5e-10,"hi":8.13e-10},{"E":293.6,"xs":3.24e-10,"lo":2.19e-10,"hi":4.47e-10},{"E":347,"xs":8.91e-10,"lo":4.9e-10,"hi":1.58e-9},{"E":347,"xs":1.35e-10,"lo":4.07e-11,"hi":2.69e-10},{"E":414,"xs":5.89e-11,"lo":3.63e-11,"hi":1.05e-10},
{"E":10,"xs":2.82e-11,"lo":1.62e-11,"hi":3.98e-11},{"E":16.4,"xs":1.15e-10,"lo":8.91e-11,"hi":1.48e-10},{"E":17.9,"xs":2.0e-10,"lo":1.45e-10,"hi":2.82e-10},{"E":21.4,"xs":2.34e-10,"lo":2.0e-10,"hi":2.75e-10},{"E":25,"xs":3.89e-10,"lo":3.31e-10,"hi":4.57e-10},{"E":28.5,"xs":3.47e-10,"lo":2.95e-10,"hi":4.07e-10},{"E":31.4,"xs":3.24e-10,"lo":2.75e-10,"hi":3.8e-10},{"E":35.7,"xs":3.02e-10,"lo":2.57e-10,"hi":3.55e-10},{"E":39.2,"xs":3.09e-10,"lo":2.63e-10,"hi":3.63e-10},{"E":43.2,"xs":2.82e-10,"lo":2.4e-10,"hi":3.31e-10},{"E":49.2,"xs":2.82e-10,"lo":2.4e-10,"hi":3.31e-10},{"E":55.3,"xs":2.88e-10,"lo":2.45e-10,"hi":3.39e-10},{"E":62.4,"xs":2.75e-10,"lo":2.34e-10,"hi":3.24e-10},{"E":69.2,"xs":2.88e-10,"lo":2.45e-10,"hi":3.39e-10},{"E":76.3,"xs":2.75e-10,"lo":2.34e-10,"hi":3.24e-10},{"E":84.2,"xs":3.02e-10,"lo":2.57e-10,"hi":3.55e-10},{"E":93.1,"xs":3.09e-10,"lo":2.63e-10,"hi":3.63e-10},{"E":101.3,"xs":2.75e-10,"lo":2.34e-10,"hi":3.24e-10},{"E":111,"xs":2.09e-10,"lo":1.78e-10,"hi":2.45e-10},{"E":122.4,"xs":2.04e-10,"lo":1.74e-10,"hi":2.4e-10},{"E":134.2,"xs":1.48e-10,"lo":1.26e-10,"hi":1.74e-10},{"E":148.4,"xs":1.12e-10,"lo":9.55e-11,"hi":1.32e-10},{"E":166.3,"xs":7.59e-11,"lo":6.46e-11,"hi":8.91e-11},{"E":187.3,"xs":4.47e-11,"lo":3.24e-11,"hi":5.75e-11},{"E":215.5,"xs":2.57e-11,"lo":1.66e-11,"hi":3.47e-11},{"E":249.8,"xs":1.2e-11,"lo":6.76e-12,"hi":2.24e-11},{"E":292.6,"xs":4.68e-12,"lo":1.82e-12,"hi":9.55e-12},{"E":347,"xs":2.14e-12,"lo":1.0e-12,"hi":5.0e-12}
],
"labels":[
{"label":"0 deg","E":125,"xs":2.97e-5},{"label":"10 deg","E":124,"xs":9.9e-7},{"label":"20 deg","E":124,"xs":2.95e-8},{"label":"30 deg","E":124,"xs":6.75e-10}
]
},
"layer":[
{
"data":{"name":"hist"},
"mark":{"type":"line","interpolate":"step-after","clip":true,"strokeWidth":1.5},
"encoding":{
"x":{"field":"E","type":"quantitative","scale":{"type":"linear","domain":[1,450],"nice":false,"zero":false},
 "axis":{"orient":"bottom","values":[50,100,150,200,250,300,350,400,450],"tickSize":-15,"tickWidth":1,"labelFontSize":14,"labelFontWeight":"bold","labelPadding":24,"labelFlush":false,"labelOverlap":false,"grid":true,"gridColor":"black","gridDash":[1,2],"gridOpacity":0.8,"title":"p Energy (MeV)","titleFontSize":20,"titleFontWeight":"bold","titlePadding":12}},
"y":{"field":"xs","type":"quantitative","scale":{"type":"log","domain":[1e-12,1e-4],"nice":false},
 "axis":{"orient":"left","values":[1e-12,1e-11,1e-10,1e-9,1e-8,1e-7,1e-6,1e-5,1e-4],"tickSize":-12,"tickWidth":1,"labelFontSize":13.5,"labelFontWeight":"bold","labelPadding":17,"labelOverlap":false,"labelFlush":false,
 "labelExpr":"'10' + ['⁰','⁻¹','⁻²','⁻³','⁻⁴','⁻⁵','⁻⁶','⁻⁷','⁻⁸','⁻⁹','⁻¹⁰','⁻¹¹','⁻¹²'][round(-log(datum.value)/LN10)]",
 "grid":true,"gridColor":"black","gridDash":[1,2],"gridOpacity":0.8,"title":"Cross section (mb)","titleFontSize":23,"titleFontWeight":"bold","titleX":-30,"titleY":258}},
"detail":{"field":"deg"},
"color":{"field":"model","type":"nominal","scale":{"domain":["INCL","QMD","Data"],"range":["#ff0000","#0000ff","transparent"]},
 "legend":{"orient":"top-right","offset":1,"title":null,"fillColor":"white","strokeColor":"black","padding":2,"symbolType":"stroke","symbolSize":900,"symbolStrokeWidth":1.3,"clipHeight":14,"rowPadding":5,"symbolOffset":10,"labelOffset":8,"labelFontSize":10.3,"labelFontWeight":"bold","labelColor":"black","labelLimit":300,
 "labelExpr":"datum.label == 'INCL' ? 'INCL++ G4-Deex' : datum.label == 'QMD' ? 'QMD G4-Deex' : 'Data: K. Gunzert-Marx et al. GSI'"}}
}
},
{
"data":{"name":"points"},
"mark":{"type":"rule","color":"black","strokeWidth":1.5,"clip":true},
"encoding":{
"x":{"field":"E","type":"quantitative","scale":{"type":"linear","domain":[1,450],"nice":false,"zero":false},
 "axis":{"orient":"bottom","values":[10,20,30,40,60,70,80,90,110,120,130,140,160,170,180,190,210,220,230,240,260,270,280,290,310,320,330,340,360,370,380,390,410,420,430,440],"tickSize":-7,"labels":false,"grid":false,"title":null}},
"y":{"field":"lo","type":"quantitative","scale":{"type":"log","domain":[1e-12,1e-4],"nice":false},
 "axis":{"orient":"left","values":[2e-12,3e-12,4e-12,5e-12,6e-12,7e-12,8e-12,9e-12,2e-11,3e-11,4e-11,5e-11,6e-11,7e-11,8e-11,9e-11,2e-10,3e-10,4e-10,5e-10,6e-10,7e-10,8e-10,9e-10,2e-9,3e-9,4e-9,5e-9,6e-9,7e-9,8e-9,9e-9,2e-8,3e-8,4e-8,5e-8,6e-8,7e-8,8e-8,9e-8,2e-7,3e-7,4e-7,5e-7,6e-7,7e-7,8e-7,9e-7,2e-6,3e-6,4e-6,5e-6,6e-6,7e-6,8e-6,9e-6,2e-5,3e-5,4e-5,5e-5,6e-5,7e-5,8e-5,9e-5],"tickSize":-6,"labels":false,"grid":false,"title":null}},
"y2":{"field":"hi"}
}
},
{
"data":{"name":"points"},
"mark":{"type":"point","shape":"square","filled":true,"color":"black","size":18,"opacity":1,"clip":true},
"encoding":{
"x":{"field":"E","type":"quantitative","scale":{"type":"linear","domain":[1,450],"nice":false,"zero":false},
 "axis":{"orient":"top","values":[50,100,150,200,250,300,350,400],"tickSize":-15,"labels":false,"grid":false,"title":null}},
"y":{"field":"xs","type":"quantitative","scale":{"type":"log","domain":[1e-12,1e-4],"nice":false},
 "axis":{"orient":"right","values":[1e-11,1e-10,1e-9,1e-8,1e-7,1e-6,1e-5],"tickSize":-12,"labels":false,"grid":false,"title":null}}
}
},
{
"data":{"name":"labels"},
"mark":{"type":"point","shape":"M-1,-0.42H1V0.42H-1Z","filled":true,"color":"#eeeeee","opacity":1,"size":2500},
"encoding":{
"x":{"field":"E","type":"quantitative","scale":{"type":"linear","domain":[1,450],"nice":false,"zero":false},
 "axis":{"orient":"top","values":[10,20,30,40,60,70,80,90,110,120,130,140,160,170,180,190,210,220,230,240,260,270,280,290,310,320,330,340,360,370,380,390,410,420,430,440],"tickSize":-7,"labels":false,"grid":false,"title":null}},
"y":{"field":"xs","type":"quantitative","scale":{"type":"log","domain":[1e-12,1e-4],"nice":false},
 "axis":{"orient":"right","values":[2e-12,3e-12,4e-12,5e-12,6e-12,7e-12,8e-12,9e-12,2e-11,3e-11,4e-11,5e-11,6e-11,7e-11,8e-11,9e-11,2e-10,3e-10,4e-10,5e-10,6e-10,7e-10,8e-10,9e-10,2e-9,3e-9,4e-9,5e-9,6e-9,7e-9,8e-9,9e-9,2e-8,3e-8,4e-8,5e-8,6e-8,7e-8,8e-8,9e-8,2e-7,3e-7,4e-7,5e-7,6e-7,7e-7,8e-7,9e-7,2e-6,3e-6,4e-6,5e-6,6e-6,7e-6,8e-6,9e-6,2e-5,3e-5,4e-5,5e-5,6e-5,7e-5,8e-5,9e-5],"tickSize":-6,"labels":false,"grid":false,"title":null}}
}
},
{
"data":{"name":"labels"},
"mark":{"type":"text","font":"Liberation Sans","fontSize":15,"fontWeight":"bold","color":"black","align":"center","baseline":"middle"},
"encoding":{
"x":{"field":"E","type":"quantitative","axis":null},
"y":{"field":"xs","type":"quantitative","axis":null},
"text":{"field":"label"}
}
},
{
"data":{"values":[{}]},
"mark":{"type":"rect","fill":"white","stroke":"black","strokeWidth":1,"clip":false},
"encoding":{
"x":{"datum":31.4,"type":"quantitative","axis":null},
"x2":{"datum":375.7},
"y":{"datum":1.52e-4,"type":"quantitative","axis":null},
"y2":{"datum":4.62e-4}
}
},
{
"data":{"values":[{"title":"C (200MeV) + H2O (12.78cm)"}]},
"mark":{"type":"text","font":"Liberation Sans","fontSize":18.5,"fontWeight":"bold","color":"black","align":"center","baseline":"middle","clip":false},
"encoding":{
"x":{"datum":205,"type":"quantitative","axis":null},
"y":{"datum":2.64e-4,"type":"quantitative","axis":null},
"text":{"field":"title"}
}
}
],
"resolve":{"axis":{"x":"independent","y":"independent"}}
}
